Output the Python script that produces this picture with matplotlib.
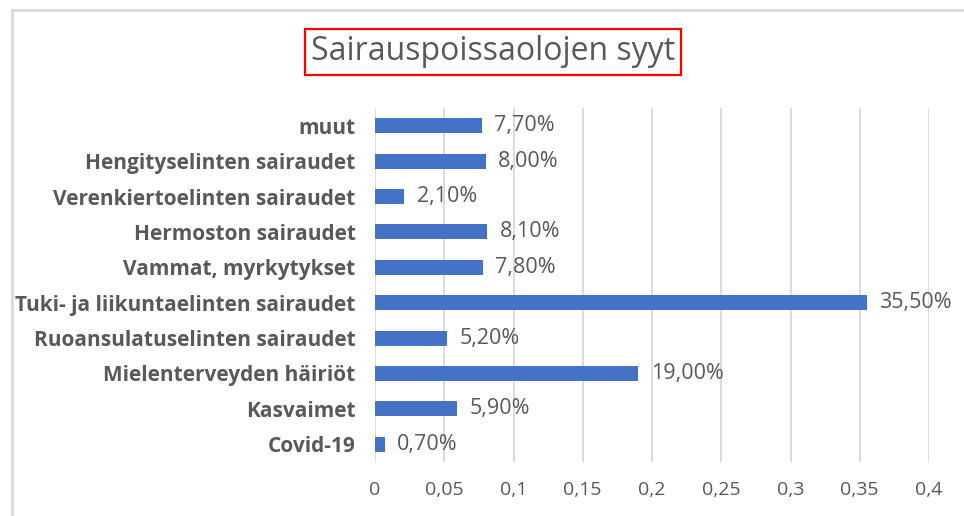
import matplotlib.pyplot as plt
from matplotlib.lines import Line2D
from matplotlib.ticker import FuncFormatter

categories = ['Covid-19', 'Kasvaimet', 'Mielenterveyden häiriöt',
              'Ruoansulatuselinten sairaudet', 'Tuki- ja liikuntaelinten sairaudet',
              'Vammat, myrkytykset', 'Hermoston sairaudet',
              'Verenkiertoelinten sairaudet', 'Hengityselinten sairaudet', 'muut']
values = [0.007, 0.059, 0.19, 0.052, 0.355, 0.078, 0.081, 0.021, 0.08, 0.077]
xticks = [0, 0.05, 0.1, 0.15, 0.2, 0.25, 0.3, 0.35, 0.4]

plt.rcParams['font.family'] = ['Open Sans', 'DejaVu Sans']
text_col = '#595959'

fig = plt.figure(figsize=(9.64, 5.16), dpi=100)
ax = fig.add_axes([375 / 964, 1 - 462 / 516, 554 / 964, 354 / 516])

ypos = range(len(categories))
ax.barh(ypos, values, height=0.42, color='#4472C4', zorder=3)
for y, v in zip(ypos, values):
    ax.text(v + 0.009, y, f'{v * 100:.2f}%'.replace('.', ','), va='center',
            ha='left', fontsize=15.5, color=text_col)

ax.set_xlim(0, 0.4)
ax.set_ylim(-0.5, len(categories) - 0.5)
ax.set_xticks(xticks)
ax.xaxis.set_major_formatter(FuncFormatter(lambda v, p: f'{v:g}'.replace('.', ',')))
ax.set_yticks(list(ypos))
ax.set_yticklabels(categories, fontsize=15, fontweight='bold', color=text_col)
ax.tick_params(axis='x', labelsize=14, labelcolor=text_col, length=0, pad=14)
ax.tick_params(axis='y', length=0, pad=14)
ax.grid(axis='x', color='#d9d9d9', linewidth=1.3, zorder=0)
for s in ax.spines.values():
    s.set_visible(False)

fig.text(493 / 964, 1 - 52 / 516, 'Sairauspoissaolojen syyt', ha='center', va='center',
         fontsize=23, color=text_col,
         bbox=dict(boxstyle='square,pad=0.2', facecolor='white', edgecolor='#ff0000',
                   linewidth=1.6))

# outer chart border (left and top edges visible)
fig.add_artist(Line2D([12 / 964, 12 / 964], [0, 1 - 10 / 516], transform=fig.transFigure,
                      color='#d9d9d9', linewidth=2))
fig.add_artist(Line2D([12 / 964, 1], [1 - 10 / 516, 1 - 10 / 516], transform=fig.transFigure,
                      color='#d9d9d9', linewidth=2))

fig.savefig('out.png', dpi=100)
